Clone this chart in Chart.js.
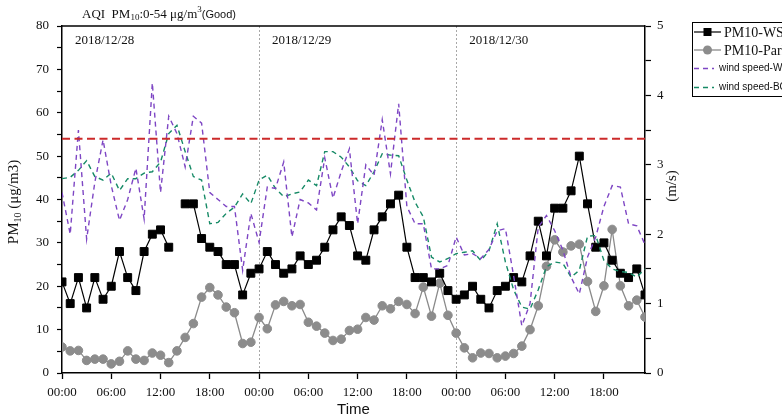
<!DOCTYPE html>
<html>
<head>
<meta charset="utf-8">
<title>PM10 and wind speed</title>
<script src="https://cdn.jsdelivr.net/npm/chart.js@4.4.1/dist/chart.umd.min.js"></script>
<style>
  html, body { margin: 0; padding: 0; background: #fff; }
  #wrap { width: 782px; height: 419px; }
</style>
</head>
<body>
<div id="wrap"><canvas id="chart" width="782" height="419"></canvas></div>
<script>
// hourly values, 2018/12/28 00:00 -> 2018/12/30 23:00
const days = ["2018/12/28", "2018/12/29", "2018/12/30"];
const hourTicks = ["00:00", "06:00", "12:00", "18:00"];

// PM10 (μg/m3)
const pm10WS = [
  21, 16, 22, 15, 22, 17, 20, 28, 22, 19, 28, 32, 33, 29, null, 39, 39, 31, 29, 28, 25, 25, 18, 23,
  24, 28, 25, 23, 24, 27, 25, 26, 29, 33, 36, 34, 27, 26, 33, 36, 39, 41, 29, 22, 22, 21, 23, 19,
  17, 18, 20, 17, 15, 19, 20, 22, 21, 27, 35, 27, 38, 38, 42, 50, 39, 29, 30, 26, 23, 22, 24, 18
];
const pm10Park = [
  6, 5.1, 5.2, 2.9, 3.2, 3.2, 2.1, 2.7, 5.1, 3.2, 2.9, 4.6, 4.1, 2.4, 5.1, 8.2, 11.4, 17.5, 19.7, 18, 15.2, 13.9, 6.8, 7.1,
  12.8, 10.2, 15.7, 16.5, 15.5, 15.8, 11.7, 10.8, 9.2, 7.5, 7.8, 9.8, 10.1, 12.8, 12.2, 15.5, 14.8, 16.5, 15.8, 13.7, 19.8, 13.1, 20.7, 13.3,
  9.2, 5.8, 3.5, 4.6, 4.5, 3.5, 3.9, 4.5, 6.2, 10, 15.5, 24.6, 30.7, 27.9, 29.3, 29.7, 21.1, 14.2, 20.1, 33.1, 20.1, 15.5, 16.8, 12.9
];

// wind speed (m/s)
const windWS = [
  2.6, 2.0, 3.5, 1.93, 2.75, 3.36, 2.7, 2.2, 2.5, 2.95, 2.22, 4.18, 2.6, 3.7, 3.45, 2.97, 3.7, 3.6, 2.6, 2.5, 2.4, 2.4, 1.48, 2.3,
  1.88, 2.68, 2.66, 3.04, 1.96, 2.5, 2.45, 2.35, 3.1, 2.52, 2.9, 3.23, 2.15, 3.0, 2.85, 3.65, 2.87, 3.88, 2.4, 2.15, 2.15, 1.5, 1.5, 1.55,
  1.96, 1.7, 1.72, 1.65, 1.78, 2.05, 2.08, 1.4, 0.68, 1.0, 2.1, 2.27, 2.05, 1.77, 1.38, 1.14, 1.67, 1.96, 2.4, 2.7, 2.68, 2.15, 2.12, 1.85
];
const windBG = [
  2.8, 2.82, 2.92, 3.06, 2.83, 2.78, 2.88, 2.63, 2.8, 2.8, 2.88, 2.9, 3.04, 3.45, 3.57, 3.19, 2.83, 2.78, 2.15, 2.17, 2.3, 2.39, 2.58, 2.44,
  2.78, 2.85, 2.66, 2.54, 2.58, 2.61, 2.78, 2.7, 3.19, 3.19, 3.11, 2.97, 2.77, 2.7, 2.9, 3.16, 3.14, 3.13, 2.78, 2.46, 2.25, 1.67, 1.6, 1.65,
  1.72, 1.74, 1.76, 1.62, 1.76, 2.15, 1.6, 1.2, 0.95, 0.92, 1.2, 1.53, 1.6, 1.58, 1.38, 1.48, 1.97, 1.98, 1.62, 1.5, 1.46, 1.45, 1.38, 1.5
];

// AQI "Good" upper limit for PM10
const aqiGood = 54;

const SERIF = '"Liberation Serif", "Times New Roman", serif';
const SANS = '"Liberation Sans", Arial, sans-serif';
const lastHour = pm10WS.length - 1;

const toXY = arr => arr.map((v, i) => ({ x: i, y: v }));

// draws text pieces one after another (for sub/superscripts)
function richText(ctx, parts, x, y) {
  parts.forEach(p => {
    ctx.font = p.font;
    ctx.fillText(p.t, x, y + (p.dy || 0));
    x += ctx.measureText(p.t).width;
  });
  return x;
}
function richWidth(ctx, parts) {
  let w = 0;
  parts.forEach(p => { ctx.font = p.font; w += ctx.measureText(p.t).width; });
  return w;
}

const decorations = {
  id: "decorations",
  afterDraw(chart) {
    const { ctx, chartArea: a, scales: { x } } = chart;
    ctx.save();

    // top frame line
    ctx.strokeStyle = "#000";
    ctx.lineWidth = 1.5;
    ctx.beginPath();
    ctx.moveTo(a.left, a.top);
    ctx.lineTo(a.right, a.top);
    ctx.stroke();

    ctx.fillStyle = "#111";
    ctx.textBaseline = "middle";
    ctx.textAlign = "left";

    // day labels
    ctx.font = "13px " + SERIF;
    days.forEach((d, i) => ctx.fillText(d, x.getPixelForValue(i * 24) + 13, a.top + 15));

    // title
    richText(ctx, [
      { t: "AQI  PM", font: "13px " + SERIF },
      { t: "10", font: "9px " + SERIF, dy: 3 },
      { t: ":0-" + aqiGood + " μg/m", font: "13px " + SERIF },
      { t: "3", font: "9px " + SERIF, dy: -5 },
      { t: "(Good)", font: "11px " + SANS }
    ], 82, 15);

    // x title
    ctx.textAlign = "center";
    ctx.font = "15px " + SANS;
    ctx.fillText("Time", (a.left + a.right) / 2, 410);

    // left y title
    const leftParts = [
      { t: "PM", font: "15px " + SERIF },
      { t: "10", font: "10px " + SERIF, dy: 4 },
      { t: " (μg/m3)", font: "15px " + SERIF }
    ];
    ctx.save();
    ctx.translate(14, 202);
    ctx.rotate(-Math.PI / 2);
    ctx.textAlign = "left";
    richText(ctx, leftParts, -richWidth(ctx, leftParts) / 2, 0);
    ctx.restore();

    // right y title
    ctx.save();
    ctx.translate(672, 186);
    ctx.rotate(-Math.PI / 2);
    ctx.font = "15px " + SERIF;
    ctx.textAlign = "center";
    ctx.fillText("(m/s)", 0, 0);
    ctx.restore();

    // legend
    ctx.strokeStyle = "#000";
    ctx.lineWidth = 1;
    ctx.strokeRect(692.5, 22.5, 120, 74);
    const rows = [32, 50, 68.5, 87.5];
    chart.data.datasets.forEach(ds => {
      if (ds.legendRow === undefined) return;
      const y = rows[ds.legendRow];
      ctx.save();
      ctx.strokeStyle = ds.borderColor;
      ctx.lineWidth = ds.borderWidth;
      ctx.setLineDash(ds.borderDash || []);
      ctx.beginPath();
      ctx.moveTo(694, y);
      ctx.lineTo(ds.borderDash ? 714 : 721, y);
      ctx.stroke();
      ctx.setLineDash([]);
      if (ds.pointRadius) {
        ctx.fillStyle = ds.pointBackgroundColor;
        ctx.beginPath();
        if (ds.pointStyle === "rect") {
          ctx.rect(703.5, y - 4, 8, 8);
        } else {
          ctx.arc(707.5, y, 4.5, 0, Math.PI * 2);
        }
        ctx.fill();
      }
      ctx.fillStyle = "#111";
      ctx.textAlign = "left";
      if (ds.borderDash) {
        ctx.font = "10px " + SANS;
        ctx.fillText(ds.label, 719, y);
      } else {
        ctx.font = "14px " + SERIF;
        ctx.fillText(ds.label, 724, y + 1);
      }
      ctx.restore();
    });

    ctx.restore();
  }
};

new Chart(document.getElementById("chart"), {
  type: "line",
  data: {
    datasets: [
      {
        label: "AQI good",
        data: [{ x: 0, y: aqiGood }, { x: lastHour, y: aqiGood }],
        yAxisID: "y",
        borderColor: "#cc2a2a",
        borderWidth: 2,
        borderDash: [8, 4.5],
        pointRadius: 0,
        order: 0
      },
      {
        label: "wind speed-WS",
        data: toXY(windWS),
        yAxisID: "y2",
        borderColor: "#7e46c4",
        borderWidth: 1.4,
        borderDash: [5, 4],
        pointRadius: 0,
        legendRow: 2,
        order: 1
      },
      {
        label: "wind speed-BG",
        data: toXY(windBG),
        yAxisID: "y2",
        borderColor: "#168a66",
        borderWidth: 1.4,
        borderDash: [5, 4],
        pointRadius: 0,
        legendRow: 3,
        order: 2
      },
      {
        label: "PM10-WS",
        data: toXY(pm10WS),
        yAxisID: "y",
        borderColor: "#000",
        borderWidth: 1.2,
        pointStyle: "rect",
        pointRadius: 5.6,
        pointBackgroundColor: "#000",
        pointBorderColor: "#000",
        pointBorderWidth: 1,
        spanGaps: false,
        legendRow: 0,
        order: 3
      },
      {
        label: "PM10-Park",
        data: toXY(pm10Park),
        yAxisID: "y",
        borderColor: "#8a8a8a",
        borderWidth: 1.3,
        pointStyle: "circle",
        pointRadius: 4.3,
        pointBackgroundColor: "#8c8c8c",
        pointBorderColor: "#8c8c8c",
        pointBorderWidth: 1,
        legendRow: 1,
        order: 4
      }
    ]
  },
  options: {
    responsive: false,
    animation: false,
    events: [],
    layout: { padding: { top: 26, left: 0, right: 0, bottom: 0 } },
    plugins: { legend: { display: false }, tooltip: { enabled: false } },
    scales: {
      x: {
        type: "linear",
        min: 0,
        max: lastHour,
        afterFit: s => { s.height = 46; },
        ticks: {
          stepSize: 6,
          includeBounds: false,
          autoSkip: false,
          maxRotation: 0,
          padding: 6,
          color: "#111",
          font: { family: SERIF, size: 13 },
          callback: v => hourTicks[(v % 24) / 6]
        },
        grid: {
          drawOnChartArea: true,
          color: c => (c.tick && c.tick.value > 0 && c.tick.value % 24 === 0) ? "#a8a8a8" : "rgba(0,0,0,0)",
          lineWidth: 1,
          tickColor: "#000",
          tickLength: 6,
          tickWidth: 1.3
        },
        border: { display: true, color: "#000", width: 1.5, dash: [2, 2] }
      },
      y: {
        position: "left",
        min: 0,
        max: 80,
        afterFit: s => { s.width = 62; },
        ticks: {
          stepSize: 5,
          padding: 8,
          color: "#111",
          font: { family: SERIF, size: 13 },
          callback: v => (v % 10 === 0 ? v : "")
        },
        grid: { drawOnChartArea: false, tickColor: "#000", tickLength: 5, tickWidth: 1.2 },
        border: { display: true, color: "#000", width: 1.5 }
      },
      y2: {
        position: "right",
        min: 0,
        max: 5,
        afterFit: s => { s.width = 137; },
        ticks: {
          stepSize: 0.5,
          padding: 6,
          color: "#111",
          font: { family: SERIF, size: 13 },
          callback: v => (Number.isInteger(v) ? v : "")
        },
        grid: { drawOnChartArea: false, tickColor: "#000", tickLength: 6, tickWidth: 1.2 },
        border: { display: true, color: "#000", width: 1.5 }
      }
    }
  },
  plugins: [decorations]
});
</script>
</body>
</html>
